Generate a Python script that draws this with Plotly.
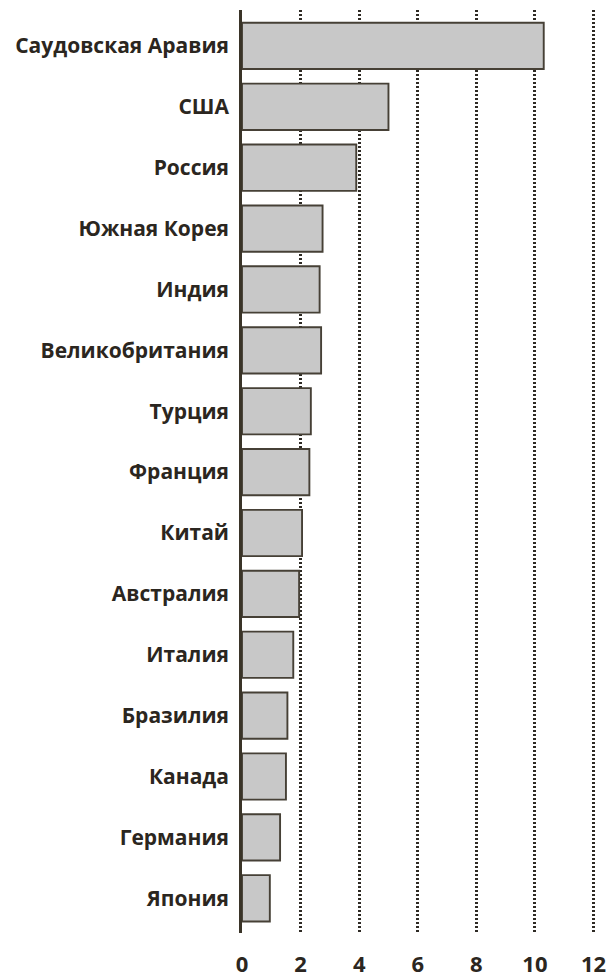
import plotly.graph_objects as go

countries = ["Саудовская Аравия", "США", "Россия", "Южная Корея", "Индия",
             "Великобритания", "Турция", "Франция", "Китай", "Австралия",
             "Италия", "Бразилия", "Канада", "Германия", "Япония"]
values = [10.3, 5.0, 3.9, 2.75, 2.65, 2.7, 2.35, 2.3, 2.05, 1.95, 1.75, 1.55, 1.5, 1.3, 0.95]
x_ticks = [0, 2, 4, 6, 8, 10, 12]

fig = go.Figure(go.Bar(
    x=values, y=countries, orientation="h",
    marker=dict(color="#c8c8c8", line=dict(color="#464036", width=1.9)),
    width=0.76,
))

fig.update_layout(
    width=610, height=977,
    margin=dict(l=242, r=15, t=10, b=44, autoexpand=False),
    plot_bgcolor="white", paper_bgcolor="white",
    showlegend=False,
    font=dict(family="Open Sans", size=20, color="#2b2620", weight=600),
)
fig.update_xaxes(
    range=[0, 12.05], tickvals=x_ticks, ticktext=[str(v) for v in x_ticks],
    showgrid=True, gridcolor="#2e2a24", gridwidth=2.7, griddash="2.3px,1.7px",
    zeroline=False, showline=False, ticks="", automargin=False,
    ticklabelstandoff=16,
    tickfont=dict(family="Open Sans", size=22, color="#2b2620", weight=700),
)
fig.update_yaxes(
    categoryorder="array", categoryarray=countries,
    range=[14.57, -0.59], automargin=False,
    showgrid=False, zeroline=False,
    showline=True, linecolor="#3a3428", linewidth=2.6,
    ticks="", ticklabelstandoff=6,
    tickfont=dict(family="Open Sans", size=21, color="#2b2620", weight=700),
)

fig.write_html(
    "out.html",
    config={"displayModeBar": False},
    post_script="document.body.style.margin='0';document.body.style.overflow='hidden';",
)
